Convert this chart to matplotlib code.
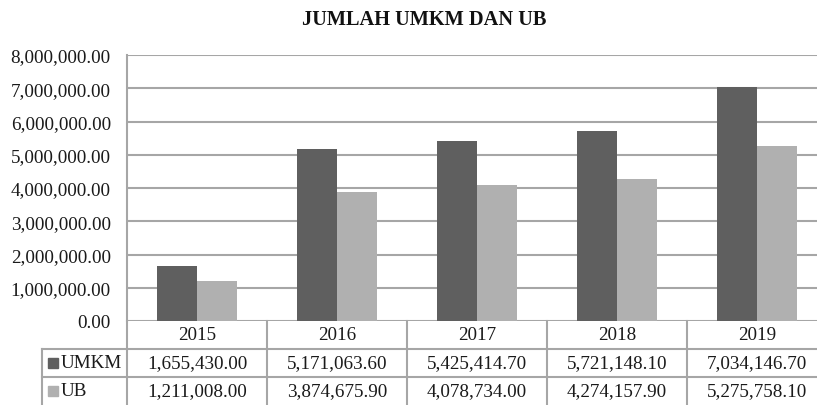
import matplotlib.pyplot as plt
import matplotlib.transforms as mtransforms
from matplotlib.lines import Line2D
from matplotlib.patches import Rectangle
import numpy as np

# -----------------------
# Data
# -----------------------
years = ["2015", "2016", "2017", "2018", "2019"]
umkm = [1655430.00, 5171063.60, 5425414.70, 5721148.10, 7034146.70]
ub = [1211008.00, 3874675.90, 4078734.00, 4274157.90, 5275758.10]
series_names = ["UMKM", "UB"]
yticks = [0, 1000000, 2000000, 3000000, 4000000, 5000000, 6000000, 7000000, 8000000]

# -----------------------
# Style
# -----------------------
W, H = 817, 406
plt.rcParams["font.family"] = ["Liberation Serif", "DejaVu Serif"]
FS = 13.8
GRID = "#a6a6a6"
C_UMKM = "#5f5f5f"
C_UB = "#b0b0b0"
TXT = "#1a1a1a"

fig = plt.figure(figsize=(W / 100, H / 100), dpi=100)

# plot area in pixels: left 127, top 56, bottom 322, category width 140
left_px, top_px, bot_px, cat_w = 127, 56, 322, 140
ax = fig.add_axes([left_px / W, 1 - bot_px / H,
                   cat_w * len(years) / W, (bot_px - top_px) / H])

x = np.arange(len(years))
bw = 0.286
ax.bar(x - bw / 2, umkm, bw, color=C_UMKM, zorder=3)
ax.bar(x + bw / 2, ub, bw, color=C_UB, zorder=3)

ax.set_xlim(-0.5, len(years) - 0.5)
ax.set_ylim(0, 8000000)
ax.set_yticks(yticks)
ax.set_yticklabels([f"{v:,.2f}" for v in yticks], fontsize=FS, color=TXT)
ax.set_xticks([])
ax.tick_params(axis="y", length=0, pad=11.7)
ax.yaxis.grid(True, color=GRID, linewidth=1.5, zorder=0)
for s in ["top", "right", "bottom"]:
    ax.spines[s].set_visible(False)
ax.spines["left"].set_color(GRID)
ax.spines["left"].set_linewidth(1.5)

fig.text(424 / W, 1 - 20 / H, "JUMLAH UMKM DAN UB", ha="center", va="center",
         fontsize=14.7, fontweight="bold", color="#111111")

# -----------------------
# Data table below the axes
# -----------------------
def fy(py):
    return 1 - py / H

def fx(px):
    return px / W

tr = mtransforms.blended_transform_factory(ax.transData, fig.transFigure)

def fig_line(xs, ys, transform):
    fig.add_artist(Line2D(xs, ys, transform=transform, color=GRID,
                          linewidth=1.5, clip_on=False))

# horizontal row lines
fig_line([fx(42), fx(W + 20)], [fy(350), fy(350)], fig.transFigure)
fig_line([fx(42), fx(W + 20)], [fy(378), fy(378)], fig.transFigure)
# vertical lines
fig_line([fx(42), fx(42)], [fy(350), fy(406)], fig.transFigure)
fig_line([fx(left_px), fx(left_px)], [fy(322), fy(406)], fig.transFigure)
for i in range(1, len(years)):
    fig_line([i - 0.5, i - 0.5], [fy(322), fy(406)], tr)

for i, yr in enumerate(years):
    fig.text(i, fy(336), yr, transform=tr, ha="center", va="center",
             fontsize=FS, color=TXT)
    fig.text(i, fy(364), f"{umkm[i]:,.2f}", transform=tr, ha="center",
             va="center", fontsize=FS, color=TXT)
    fig.text(i, fy(392), f"{ub[i]:,.2f}", transform=tr, ha="center",
             va="center", fontsize=FS, color=TXT)

for name, color, yc in [(series_names[0], C_UMKM, 364), (series_names[1], C_UB, 392)]:
    fig.add_artist(Rectangle((fx(48), fy(yc + 5)), 10 / W, 10 / H,
                             transform=fig.transFigure, color=color))
    fig.text(fx(61), fy(yc), name, ha="left", va="center",
             fontsize=FS, color=TXT)

fig.savefig("out.png", dpi=100)
